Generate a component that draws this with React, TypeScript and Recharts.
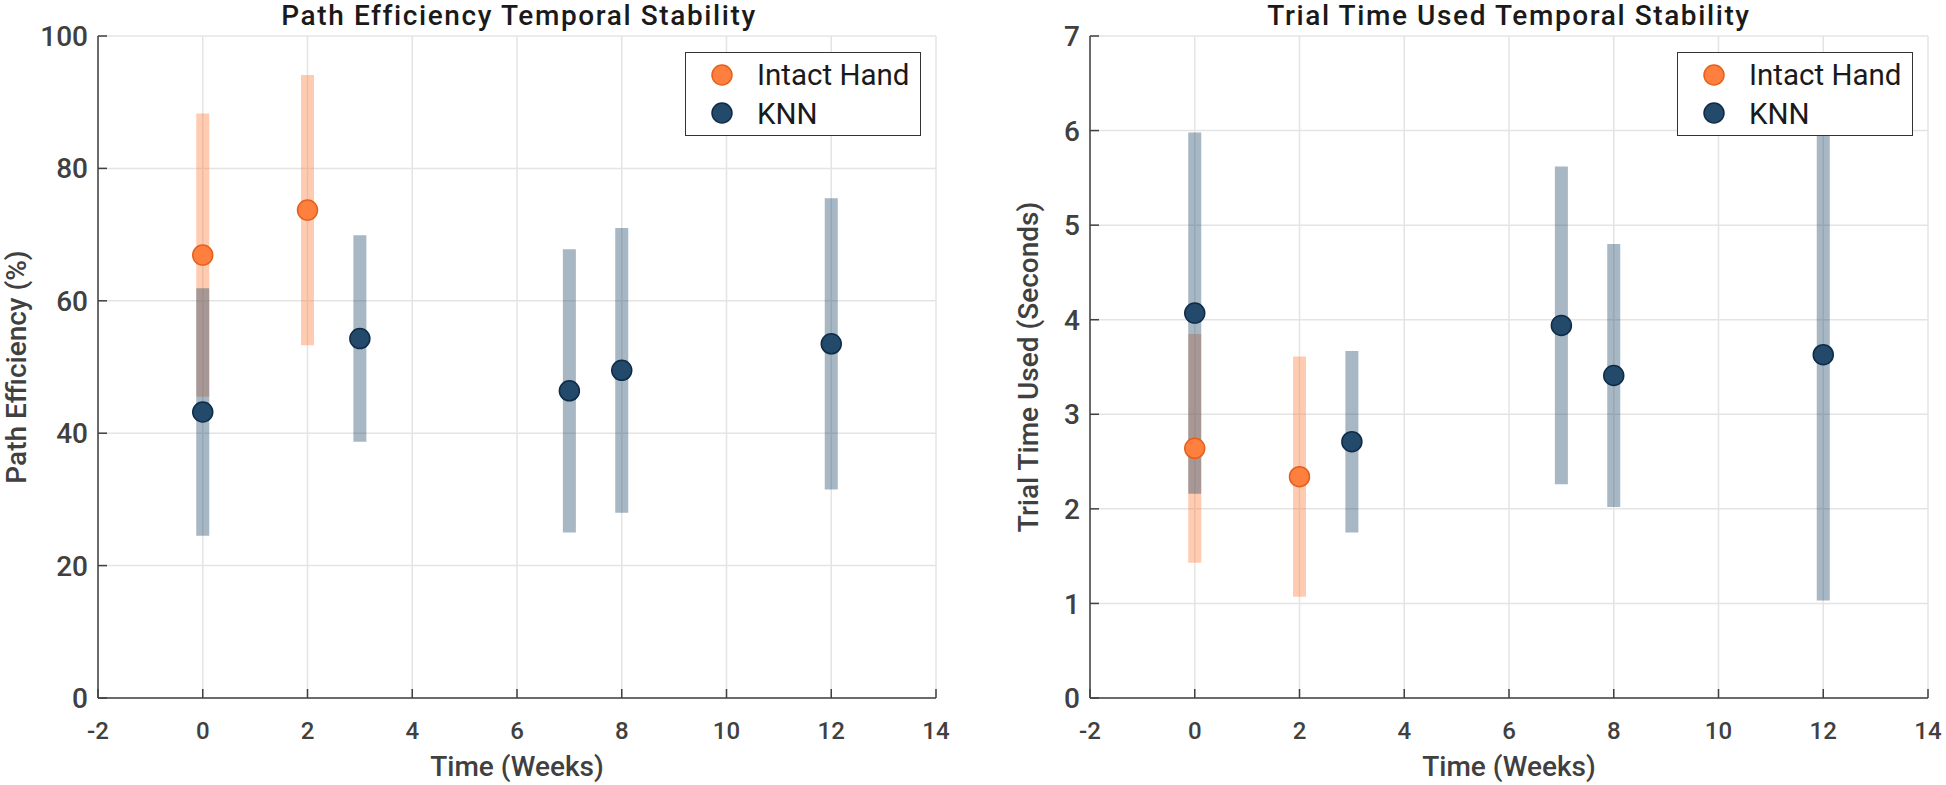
import React from 'react';
import { ScatterChart, Scatter, XAxis, YAxis, CartesianGrid, ErrorBar, Legend, Label } from 'recharts';

// ---- Data ----
const weeksIntact = [0, 2];
const weeksKnn = [0, 3, 7, 8, 12];

const peIntactMean = [66.9, 73.7];
const peIntactSd = [21.4, 20.4];
const peKnnMean = [43.2, 54.3, 46.4, 49.5, 53.5];
const peKnnSd = [18.7, 15.6, 21.4, 21.5, 22.0];

const ttIntactMean = [2.64, 2.34];
const ttIntactSd = [1.21, 1.27];
const ttKnnMean = [4.07, 2.71, 3.94, 3.41, 3.63];
const ttKnnSd = [1.91, 0.96, 1.68, 1.39, 2.6];

const xTicks = [-2, 0, 2, 4, 6, 8, 10, 12, 14];
const peTicks = [0, 20, 40, 60, 80, 100];
const ttTicks = [0, 1, 2, 3, 4, 5, 6, 7];

const seriesNames = ['Intact Hand', 'KNN'];

// ---- Styles ----
const FONT = 'Roboto, "Noto Sans", sans-serif';
const ORANGE = '#ff7f3f';
const ORANGE_EDGE = '#e4601c';
const ORANGE_BAR = 'rgba(255,127,63,0.4)';
const BLUE = '#234a6a';
const BLUE_EDGE = '#0e2c48';
const BLUE_BAR = 'rgba(35,74,106,0.4)';
const AXIS = '#404040';
const GRID = '#e4e4e4';

const toPoints = (weeks: number[], mean: number[], sd: number[]) =>
  weeks.map((w, i) => ({ x: w, y: mean[i], sd: sd[i] }));

const YTick = (props: any) => {
  const { x, y, payload } = props;
  return (
    <g>
      <line x1={x + 10} y1={y} x2={x + 19} y2={y} stroke={AXIS} strokeWidth={1.5} />
      <text x={x} y={y} dy="0.36em" textAnchor="end" fontSize={28} fontWeight={500} fill={AXIS} fontFamily={FONT}>
        {payload.value}
      </text>
    </g>
  );
};

const XTick = (props: any) => {
  const { x, y, payload } = props;
  return (
    <g>
      <line x1={x} y1={y} x2={x} y2={y - 9} stroke={AXIS} strokeWidth={1.5} />
      <text x={x} y={y + 41} textAnchor="middle" fontSize={24} fontWeight={500} fill={AXIS} fontFamily={FONT}>
        {payload.value}
      </text>
    </g>
  );
};

const Dot = (color: string, edge: string) => (props: any) => (
  <circle cx={props.cx} cy={props.cy} r={10} fill={color} stroke={edge} strokeWidth={1.5} />
);

const LegendBox = () => (
  <div style={{ width: 236, height: 84, position: 'relative', background: '#fff', border: '1.5px solid #333', boxSizing: 'border-box' }}>
    <svg width={236} height={84} style={{ position: 'absolute', left: -1.5, top: -1.5 }}>
      <circle cx={37} cy={23} r={10} fill={ORANGE} stroke={ORANGE_EDGE} strokeWidth={1.5} />
      <text x={72} y={33} fontSize={29.5} fontFamily={FONT} fill="#1a1a1a">{seriesNames[0]}</text>
      <circle cx={37} cy={61} r={10} fill={BLUE} stroke={BLUE_EDGE} strokeWidth={1.5} />
      <text x={72} y={72} fontSize={29.5} fontFamily={FONT} fill="#1a1a1a">{seriesNames[1]}</text>
    </svg>
  </div>
);

type PanelProps = {
  left: number;
  yAxisWidth: number;
  marginRight: number;
  yDomain: [number, number];
  yTicks: number[];
  yLabel: string;
  yLabelX: number;
  intact: { x: number; y: number; sd: number }[];
  knn: { x: number; y: number; sd: number }[];
  legendLeft: number;
};

const Panel = (p: PanelProps) => {
  const W = 973;
  const H = 785;
  return (
    <div style={{ position: 'absolute', left: p.left, top: 0, width: W, height: H }}>
      <ScatterChart width={W} height={H} margin={{ top: 36, right: p.marginRight, bottom: 0, left: 0 }}>
        <CartesianGrid stroke={GRID} strokeWidth={1.5} />
        <XAxis
          type="number"
          dataKey="x"
          domain={[-2, 14]}
          ticks={xTicks}
          interval={0}
          allowDataOverflow
          height={87}
          tickSize={0}
          tickMargin={0}
          tickLine={false}
          axisLine={{ stroke: AXIS, strokeWidth: 1.5 }}
          tick={<XTick />}
        >
          <Label
            content={(lp: any) => {
              const vb = lp.viewBox || {};
              return (
                <text x={vb.x + vb.width / 2} y={776} textAnchor="middle" fontSize={28} fontWeight={500} fill={AXIS} fontFamily={FONT}>
                  Time (Weeks)
                </text>
              );
            }}
          />
        </XAxis>
        <YAxis
          type="number"
          dataKey="y"
          domain={p.yDomain}
          ticks={p.yTicks}
          interval={0}
          allowDataOverflow
          width={p.yAxisWidth}
          tickSize={0}
          tickMargin={10}
          tickLine={false}
          axisLine={{ stroke: AXIS, strokeWidth: 1.5 }}
          tick={<YTick />}
        >
          <Label
            content={(lp: any) => {
              const vb = lp.viewBox || {};
              const cy = vb.y + vb.height / 2;
              return (
                <text
                  x={p.yLabelX}
                  y={cy}
                  transform={`rotate(-90 ${p.yLabelX} ${cy})`}
                  textAnchor="middle"
                  fontSize={28}
                  fontWeight={500}
                  fill={AXIS}
                  fontFamily={FONT}
                >
                  {p.yLabel}
                </text>
              );
            }}
          />
        </YAxis>
        <Scatter name={seriesNames[0]} data={p.intact} isAnimationActive={false} shape={Dot(ORANGE, ORANGE_EDGE)}>
          <ErrorBar dataKey="sd" direction="y" width={0} stroke={ORANGE_BAR} strokeWidth={13} isAnimationActive={false} />
        </Scatter>
        <Scatter name={seriesNames[1]} data={p.knn} isAnimationActive={false} shape={Dot(BLUE, BLUE_EDGE)}>
          <ErrorBar dataKey="sd" direction="y" width={0} stroke={BLUE_BAR} strokeWidth={13} isAnimationActive={false} />
        </Scatter>
        <Legend
          layout="vertical"
          align="center"
          verticalAlign="middle"
          content={() => <LegendBox />}
          wrapperStyle={{ position: 'absolute', left: p.legendLeft, top: 52, width: 236, height: 84 }}
        />
      </ScatterChart>
    </div>
  );
};

export default function App() {
  return (
    <div style={{ position: 'absolute', left: 0, top: 0, width: 1946, height: 785, background: '#fff', fontFamily: FONT }}>
      <Panel
        left={0}
        yAxisWidth={98}
        marginRight={37}
        yDomain={[0, 100]}
        yTicks={peTicks}
        yLabel="Path Efficiency (%)"
        yLabelX={26}
        intact={toPoints(weeksIntact, peIntactMean, peIntactSd)}
        knn={toPoints(weeksKnn, peKnnMean, peKnnSd)}
        legendLeft={685}
      />
      <Panel
        left={973}
        yAxisWidth={117}
        marginRight={18}
        yDomain={[0, 7]}
        yTicks={ttTicks}
        yLabel="Trial Time Used (Seconds)"
        yLabelX={65}
        intact={toPoints(weeksIntact, ttIntactMean, ttIntactSd)}
        knn={toPoints(weeksKnn, ttKnnMean, ttKnnSd)}
        legendLeft={704}
      />
      <svg width={1946} height={40} style={{ position: 'absolute', left: 0, top: 0, pointerEvents: 'none' }}>
        <text x={519} y={25} textAnchor="middle" fontSize={28} letterSpacing={1.6} fontWeight={500} fill="#1a1a1a" fontFamily={FONT}>
          Path Efficiency Temporal Stability
        </text>
        <text x={1509} y={25} textAnchor="middle" fontSize={28} letterSpacing={1.6} fontWeight={500} fill="#1a1a1a" fontFamily={FONT}>
          Trial Time Used Temporal Stability
        </text>
      </svg>
    </div>
  );
}
